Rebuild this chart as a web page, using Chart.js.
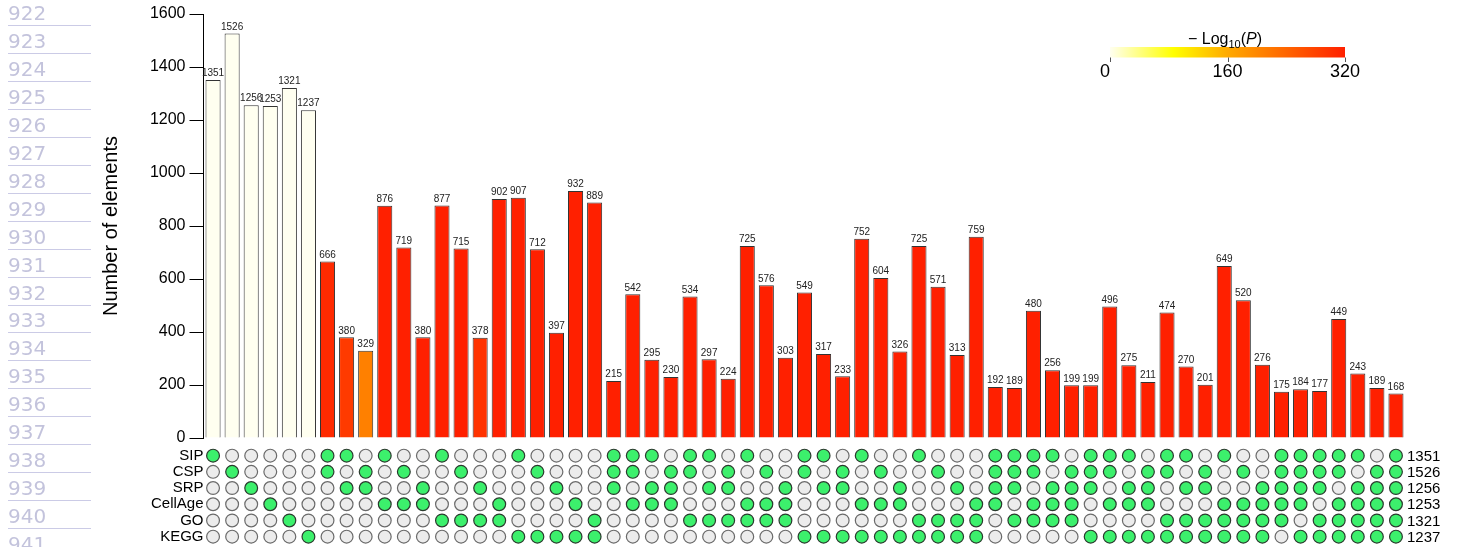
<!DOCTYPE html>
<html>
<head>
<meta charset="utf-8">
<script src="https://cdn.jsdelivr.net/npm/chart.js@4.4.1/dist/chart.umd.min.js"></script>
<style>
  html, body { margin: 0; padding: 0; background: #fff; overflow: hidden; }
  canvas { display: block; }
</style>
</head>
<body>
<canvas id="upset" width="1460" height="547"></canvas>
<script>
// ---- data -------------------------------------------------------------
const setNames = ['SIP', 'CSP', 'SRP', 'CellAge', 'GO', 'KEGG'];
const setSizes = [1351, 1526, 1256, 1253, 1321, 1237];

// members of each intersection (1-based positions in setNames)
const combos = [
  '1', '2', '3', '4', '5', '6',
  '12', '13', '23', '14', '24', '34', '15', '25', '35', '45', '16', '26', '36', '46', '56',
  '123', '124', '134', '234', '125', '135', '235', '145', '245', '345',
  '126', '136', '236', '146', '246', '346', '156', '256', '356', '456',
  '1234', '1235', '1245', '1345', '2345', '1236', '1246', '1346', '2346',
  '1256', '1356', '2356', '1456', '2456', '3456',
  '12345', '12346', '12356', '12456', '13456', '23456', '123456'
];

const counts = [
  1351, 1526, 1256, 1253, 1321, 1237,
  666, 380, 329, 876, 719, 380, 877, 715, 378, 902, 907, 712, 397, 932, 889,
  215, 542, 295, 230, 534, 297, 224, 725, 576, 303,
  549, 317, 233, 752, 604, 326, 725, 571, 313, 759,
  192, 189, 480, 256, 199, 199, 496, 275, 211,
  474, 270, 201, 649, 520, 276,
  175, 184, 177, 449, 243, 189, 168
];

// -log10(P) of each intersection; single sets have none
const negLogP = [
  null, null, null, null, null, null,
  308, 290, 209, 320, 320, 320, 320, 320, 298, 320, 320, 320, 320, 320, 320,
  320, 320, 320, 320, 320, 320, 320, 320, 320, 320,
  320, 320, 320, 320, 320, 320, 320, 320, 320, 320,
  320, 320, 320, 320, 320, 320, 320, 320, 320,
  320, 320, 320, 320, 320, 320,
  320, 320, 320, 320, 320, 320, 320
];

const yTicks = { min: 0, max: 1600, step: 200 };
const legendTicks = [0, 160, 320];
const lineNumbers = [922, 923, 924, 925, 926, 927, 928, 929, 930, 931,
                     932, 933, 934, 935, 936, 937, 938, 939, 940, 941];

// ---- colour ramp for -log10(P) -----------------------------------------
const rampMax = 320;
const rampStops = [
  [0.00, [255, 255, 240]],
  [0.27, [255, 255, 0]],
  [0.50, [255, 170, 0]],
  [1.00, [255, 32, 0]]
];
function rampColor(v) {
  const t = Math.max(0, Math.min(1, (v || 0) / rampMax));
  for (let i = 1; i < rampStops.length; i++) {
    const [t1, c1] = rampStops[i];
    const [t0, c0] = rampStops[i - 1];
    if (t <= t1) {
      const f = (t - t0) / (t1 - t0);
      const c = c0.map((a, k) => Math.round(a + (c1[k] - a) * f));
      return `rgb(${c[0]},${c[1]},${c[2]})`;
    }
  }
  const c = rampStops[rampStops.length - 1][1];
  return `rgb(${c[0]},${c[1]},${c[2]})`;
}

// ---- derived chart inputs ---------------------------------------------
const labels = combos.map(c => c.split('').map(d => setNames[+d - 1]).join(' & '));
const barColors = negLogP.map(v => rampColor(v));

const dots = [], dotFill = [], dotLine = [];
combos.forEach((c, i) => {
  setNames.forEach((_, r) => {
    const on = c.includes(String(r + 1));
    dots.push({ x: labels[i], y: r });
    dotFill.push(on ? '#3cf06c' : '#ececec');
    dotLine.push(on ? '#2b3a2e' : '#6a6a6a');
  });
});

const FONT = '"Liberation Sans", Arial, Helvetica, sans-serif';

// ---- extra drawing: gutter numbers, value labels, colour key, set sizes --
const decor = {
  id: 'decor',
  beforeDraw(chart) {
    const ctx = chart.ctx;
    ctx.save();
    ctx.fillStyle = '#fff';
    ctx.fillRect(0, 0, chart.width, chart.height);
    ctx.font = '20px "DejaVu Sans", sans-serif';
    ctx.textAlign = 'left';
    ctx.textBaseline = 'alphabetic';
    lineNumbers.forEach((n, i) => {
      const base = 20 + 27.95 * i;
      ctx.fillStyle = '#c3c3dc';
      ctx.fillText(String(n), 8, base);
      ctx.strokeStyle = '#cbcbe6';
      ctx.lineWidth = 1;
      ctx.beginPath();
      ctx.moveTo(8, Math.round(base + 5) + 0.5);
      ctx.lineTo(91, Math.round(base + 5) + 0.5);
      ctx.stroke();
    });
    ctx.restore();
  },
  afterDatasetsDraw(chart) {
    const ctx = chart.ctx;
    const meta = chart.getDatasetMeta(0);
    ctx.save();
    // value above every bar
    ctx.font = `10px ${FONT}`;
    ctx.fillStyle = '#222';
    ctx.textAlign = 'center';
    ctx.textBaseline = 'bottom';
    meta.data.forEach((bar, i) => {
      ctx.fillText(String(counts[i]), bar.x, bar.y - 1.5);
    });

    // set sizes to the right of the matrix
    const y2 = chart.scales.y2;
    const right = chart.chartArea.right;
    ctx.font = `15px ${FONT}`;
    ctx.fillStyle = '#000';
    ctx.textAlign = 'left';
    ctx.textBaseline = 'middle';
    setSizes.forEach((s, r) => {
      ctx.fillText(String(s), right + 1.5, y2.getPixelForValue(r) + 1);
    });

    // colour key
    const kx0 = 1110, kx1 = 1345, ky0 = 47, ky1 = 57.5;
    const grad = ctx.createLinearGradient(kx0, 0, kx1, 0);
    rampStops.forEach(([t, c]) => grad.addColorStop(t, `rgb(${c[0]},${c[1]},${c[2]})`));
    ctx.fillStyle = grad;
    ctx.fillRect(kx0, ky0, kx1 - kx0, ky1 - ky0);
    ctx.strokeStyle = '#555';
    ctx.lineWidth = 1;
    ctx.font = `18px ${FONT}`;
    ctx.fillStyle = '#000';
    ctx.textAlign = 'center';
    ctx.textBaseline = 'alphabetic';
    legendTicks.forEach(v => {
      const x = kx0 + (kx1 - kx0) * v / rampMax;
      const px = Math.round(x) + 0.5;
      ctx.beginPath();
      ctx.moveTo(px, ky1);
      ctx.lineTo(px, ky1 + 4.5);
      ctx.stroke();
      ctx.fillText(String(v), x - (v === 0 ? 5 : 0), 77);
    });

    // key title: -Log10(P)
    const parts = [
      { t: '\u2212 Log', f: `16px ${FONT}`, dy: 0 },
      { t: '10', f: `11px ${FONT}`, dy: 4 },
      { t: '(', f: `16px ${FONT}`, dy: 0 },
      { t: 'P', f: `italic 16px ${FONT}`, dy: 0 },
      { t: ')', f: `16px ${FONT}`, dy: 0 }
    ];
    let total = 0;
    parts.forEach(p => { ctx.font = p.f; p.w = ctx.measureText(p.t).width; total += p.w; });
    let x = 1225 - total / 2;
    ctx.textAlign = 'left';
    parts.forEach(p => {
      ctx.font = p.f;
      ctx.fillText(p.t, x, 44 + p.dy);
      x += p.w;
    });
    ctx.restore();
  }
};

new Chart(document.getElementById('upset'), {
  type: 'bar',
  data: {
    labels: labels,
    datasets: [
      {
        type: 'bar',
        data: counts,
        yAxisID: 'y',
        backgroundColor: barColors,
        borderColor: '#333',
        borderWidth: 1,
        barPercentage: 0.79,
        categoryPercentage: 1.0
      },
      {
        type: 'scatter',
        data: dots,
        yAxisID: 'y2',
        showLine: false,
        pointStyle: 'circle',
        pointRadius: 6.4,
        pointBackgroundColor: dotFill,
        pointBorderColor: dotLine,
        pointBorderWidth: 1.2
      }
    ]
  },
  options: {
    responsive: false,
    maintainAspectRatio: false,
    animation: false,
    devicePixelRatio: 1,
    layout: { autoPadding: false, padding: { top: 14, left: 0, right: 54.5, bottom: 0 } },
    plugins: { legend: { display: false }, tooltip: { enabled: false } },
    scales: {
      x: { type: 'category', display: false, offset: true },
      y: {
        type: 'linear',
        position: 'left',
        stack: 'upset',
        stackWeight: 424,
        weight: 2,
        min: yTicks.min,
        max: yTicks.max,
        ticks: {
          stepSize: yTicks.step,
          color: '#000',
          padding: 4,
          font: { family: FONT, size: 16 },
          callback: v => String(v)
        },
        grid: { drawOnChartArea: false, drawTicks: true, tickLength: 14, tickColor: '#000', tickWidth: 1 },
        border: { display: true, color: '#000', width: 1 },
        title: {
          display: true,
          text: 'Number of elements',
          color: '#000',
          font: { family: FONT, size: 20 },
          padding: { top: 99, bottom: 0 }
        },
        afterFit(s) { s.width = 203.5; s.paddingTop = 0; s.paddingBottom = 0; }
      },
      y2: {
        type: 'linear',
        position: 'left',
        stack: 'upset',
        stackWeight: 109,
        weight: 1,
        reverse: true,
        min: -1.09,
        max: 5.64,
        afterBuildTicks(s) { s.ticks = setNames.map((_, i) => ({ value: i })); },
        ticks: {
          autoSkip: false,
          color: '#000',
          padding: 0,
          font: { family: FONT, size: 15 },
          callback: v => setNames[v]
        },
        grid: { display: false, drawTicks: false },
        border: { display: false },
        afterFit(s) { s.width = 203.5; s.paddingTop = 0; s.paddingBottom = 0; }
      }
    }
  },
  plugins: [decor]
});
</script>
</body>
</html>
